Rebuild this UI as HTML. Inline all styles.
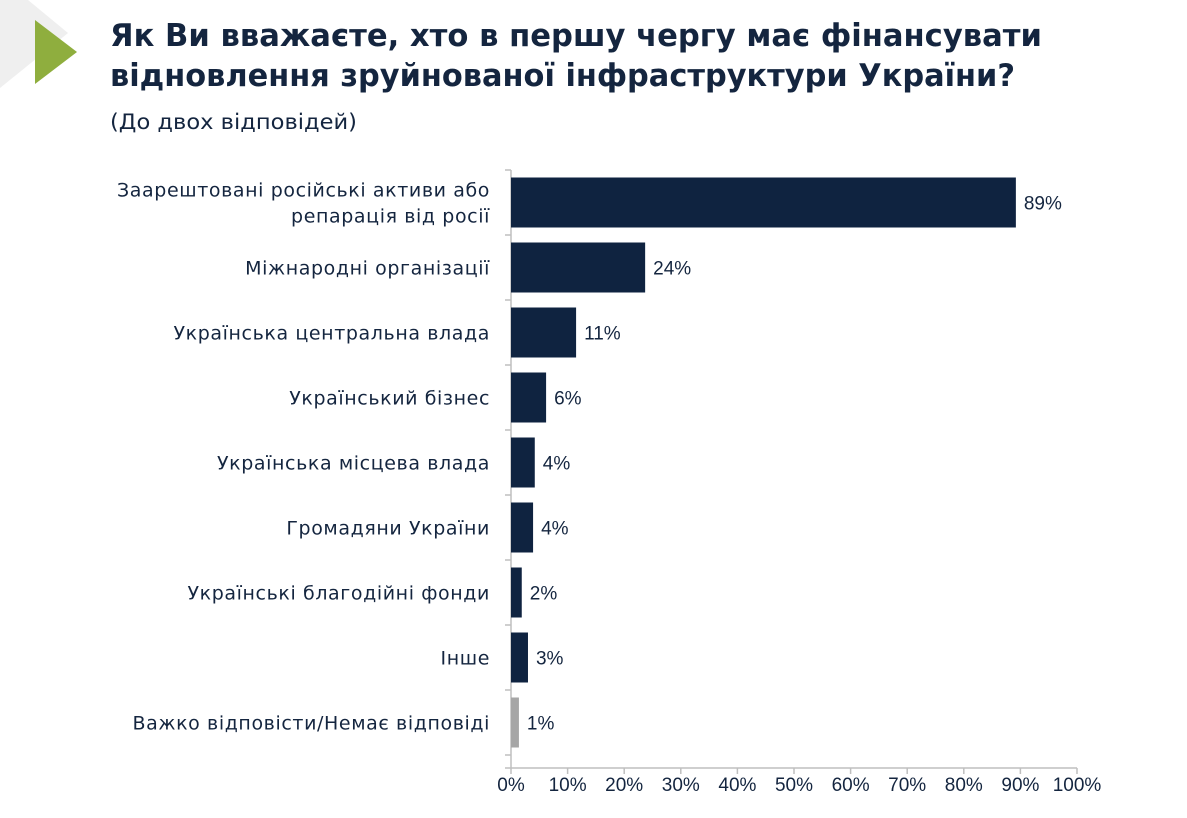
<!DOCTYPE html>
<html><head><meta charset="utf-8"><style>
body{margin:0;background:#fff;width:1187px;height:813px;overflow:hidden;font-family:"Liberation Sans","DejaVu Sans",sans-serif;}
</style></head><body>
<svg width="1187" height="813" xmlns="http://www.w3.org/2000/svg">
<polygon points="0,0 28,0 68,33 0,88" fill="#efefef"/>
<polygon points="35,20 77,52 35,84" fill="#8fae3e"/>
<text x="110" y="46" font-size="31" font-weight="bold" fill="#14253f" font-family="DejaVu Sans, sans-serif" textLength="932" lengthAdjust="spacingAndGlyphs">Як Ви вважаєте, хто в першу чергу має фінансувати</text>
<text x="110" y="86" font-size="31" font-weight="bold" fill="#14253f" font-family="DejaVu Sans, sans-serif" textLength="905" lengthAdjust="spacingAndGlyphs">відновлення зруйнованої інфраструктури України?</text>
<text x="110" y="129" font-size="21" fill="#14253f" font-family="DejaVu Sans, sans-serif" textLength="247" lengthAdjust="spacingAndGlyphs">(До двох відповідей)</text>
<g id="plot"></g>
</svg>
<script>
const categories=[["Заарештовані російські активи або","репарація від росії"],["Міжнародні організації"],["Українська центральна влада"],["Український бізнес"],["Українська місцева влада"],["Громадяни України"],["Українські благодійні фонди"],["Інше"],["Важко відповісти/Немає відповіді"]];
const values=[89.2,23.7,11.5,6.2,4.2,3.9,1.9,3.0,1.4];
const valueLabels=["89%","24%","11%","6%","4%","4%","2%","3%","1%"];
const ticks=[0,10,20,30,40,50,60,70,80,90,100];
const ns="http://www.w3.org/2000/svg";
const g=document.getElementById('plot');
const x0=511,x1=1077,yTop=170,band=65,axisY=768;
const xs=v=>x0+(x1-x0)*v/100;
const yb=i=>yTop+band*i;
function mk(t,a){const e=document.createElementNS(ns,t);for(const k in a)e.setAttribute(k,a[k]);g.appendChild(e);return e;}
let ax=mk('line',{x1:x0,y1:yTop,x2:x0,y2:axisY,stroke:'#bfbfbf','stroke-width':1.5});


let bx=mk('line',{x1:x0-6,y1:axisY,x2:x1,y2:axisY,stroke:'#bfbfbf','stroke-width':1.5});


for(let i=0;i<=categories.length;i++){let t=mk('line',{x1:x0-6,y1:yb(i),x2:x0,y2:yb(i),stroke:'#bfbfbf','stroke-width':1.5});

}
ticks.forEach(v=>{let t=mk('line',{x1:xs(v),y1:axisY,x2:xs(v),y2:axisY+6,stroke:'#bfbfbf','stroke-width':1.5});


let l=mk('text',{x:xs(v),y:791,'font-size':19,fill:'#14253f','text-anchor':'middle'});l.textContent=v+'%';

});
categories.forEach((c,i)=>{const cy=yb(i)+band/2;
let r=mk('rect',{x:x0,y:cy-25,width:xs(values[i])-x0,height:50,fill:i==8?'#a6a6a6':'#0f2340'});


let v=mk('text',{x:xs(values[i])+8,y:cy+7,'font-size':19,fill:'#14253f'});v.textContent=valueLabels[i];


c.forEach((line,j)=>{let t=mk('text',{x:490,y:cy+7+(j-(c.length-1)/2)*26,'font-size':19,'font-family':'DejaVu Sans, sans-serif','letter-spacing':0.6,fill:'#14253f','text-anchor':'end'});t.textContent=line;

});
});
</script>
</body></html>
